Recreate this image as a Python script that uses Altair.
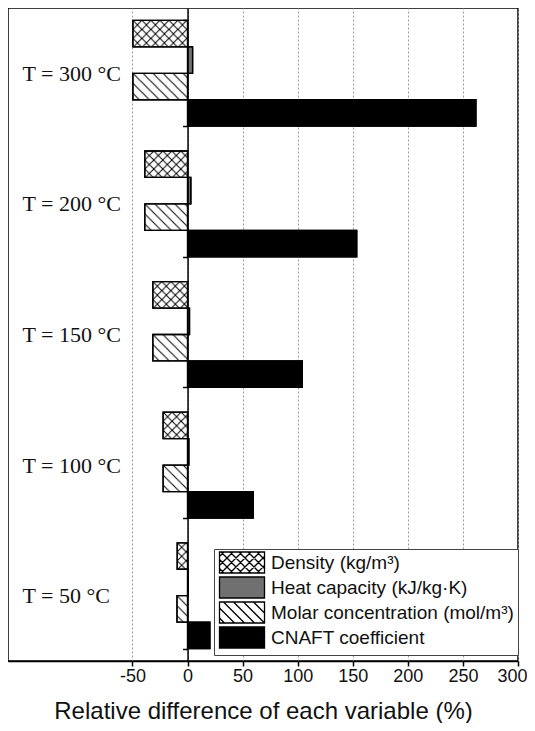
import altair as alt
import pandas as pd
from urllib.parse import quote

# ---------------- data ----------------
groups = ["T = 300 °C", "T = 200 °C", "T = 150 °C", "T = 100 °C", "T = 50 °C"]
variables = ["Density (kg/m³)", "Heat capacity (kJ/kg·K)",
             "Molar concentration (mol/m³)", "CNAFT coefficient"]
density = [-49.6, -38.8, -31.5, -22.2, -9.4]
heat_capacity = [4.6, 3.0, 1.8, 1.2, 0.5]
molar_conc = [-49.6, -38.8, -31.5, -22.2, -9.6]
cnaft = [261.8, 153.6, 104.2, 59.7, 20.3]
x_ticks = [-50, 0, 50, 100, 150, 200, 250, 300]
x_domain = [-163, 300]
x_title = "Relative difference of each variable (%)"

# ---------------- styles ----------------
W, H = 510, 653
fills = ["white", "#707070", "white", "black"]


def svg_uri(tile, d):
    svg = ("<svg xmlns='http://www.w3.org/2000/svg' width='100%' height='100%'><defs>"
           f"<pattern id='p' width='{tile}' height='{tile}' patternUnits='userSpaceOnUse'>"
           f"<path d='{d}' stroke='black' stroke-width='1' fill='none'/></pattern></defs>"
           "<rect width='100%' height='100%' fill='url(#p)'/></svg>")
    return "data:image/svg+xml," + quote(svg)


cross_uri = svg_uri(9, "M0,0L9,9M9,0L0,9")
back_uri = svg_uri(10, "M0,0L10,10M-1,9L1,11M9,-1L11,1")
hatch_map = {variables[0]: cross_uri, variables[2]: back_uri}


def rect_path(x0, x1, y0, y1):
    return f"M{x0:.3f},{y0:.3f}L{x1:.3f},{y0:.3f}L{x1:.3f},{y1:.3f}L{x0:.3f},{y1:.3f}Z"


def hatch_lines(x0, x1, y0, y1, p, direction):
    segs = []
    if direction == "back":  # y = x - c
        c = x0 - y1 + p / 2
        while c <= x1 - y0:
            xa, xb = max(x0, y0 + c), min(x1, y1 + c)
            if xb > xa:
                segs.append(f"M{xa:.3f},{xa - c:.3f}L{xb:.3f},{xb - c:.3f}")
            c += p
    else:  # y = c - x
        c = x0 + y0 + p / 2
        while c <= x1 + y1:
            xa, xb = max(x0, c - y1), min(x1, c - y0)
            if xb > xa:
                segs.append(f"M{xa:.3f},{c - xa:.3f}L{xb:.3f},{c - xb:.3f}")
            c += p
    return "".join(segs)


R = 8.0  # legend symbol unit in px
SW, SH = 45.0, 21.0  # legend symbol box in px
sx0, sx1, sy0, sy1 = -1.0, SW / R - 1.0, -SH / 2 / R, SH / 2 / R
base = rect_path(sx0, sx1, sy0, sy1)
shapes = [
    base + hatch_lines(sx0, sx1, sy0, sy1, 9 / R, "back") + hatch_lines(sx0, sx1, sy0, sy1, 9 / R, "fwd"),
    base,
    base + hatch_lines(sx0, sx1, sy0, sy1, 10 / R, "back"),
    base,
]

rows = []
for var, vals in zip(variables, [density, heat_capacity, molar_conc, cnaft]):
    for g, v in zip(groups, vals):
        rows.append({"group": g, "variable": var, "value": v, "hatch": hatch_map.get(var)})
df = pd.DataFrame(rows)

px_per_unit = W / (x_domain[1] - x_domain[0])
zero_offset = (0 - x_domain[0]) * px_per_unit

x_scale = alt.Scale(domain=x_domain, nice=False, zero=False)
y_scale = alt.Scale(domain=groups, paddingInner=0.19, paddingOuter=0.095)
yoff_scale = alt.Scale(domain=variables, paddingInner=0, paddingOuter=0)
fill_scale = alt.Scale(domain=variables, range=fills)
shape_scale = alt.Scale(domain=variables, range=shapes)
stroke_scale = alt.Scale(domain=variables, range=["black"] * len(variables))

legend = alt.Legend(title=None, orient="none", legendX=206, legendY=541,
                    symbolSize=(2 * R) ** 2, symbolOpacity=1,
                    symbolStrokeColor="black", symbolStrokeWidth=1.3,
                    labelFont="Liberation Sans", labelFontSize=19,
                    labelColor="#111", labelLimit=400,
                    labelOffset=SW + 5 - 2 * R,
                    rowPadding=-2, padding=4,
                    strokeColor="#444", fillColor="white")

x_enc = alt.X("value:Q", scale=x_scale,
              axis=alt.Axis(values=x_ticks, title=x_title, grid=True,
                            labelExpr="replace(datum.label, '\u2212', '-')",
                            labelFlush=True, labelFlushOffset=9,
                            gridDash=[2, 2], gridColor="#9a9a9a", gridWidth=1,
                            domainColor="black", domainWidth=1.5,
                            tickColor="black", tickWidth=1.5, tickSize=5,
                            labelFont="Liberation Sans", labelFontSize=18,
                            labelColor="#111", labelPadding=1,
                            titleFont="Liberation Sans", titleFontSize=24,
                            titleFontWeight="normal", titleColor="#111",
                            titlePadding=14))
y_enc = alt.Y("group:N", scale=y_scale, sort=groups,
              axis=alt.Axis(title=None, orient="left", offset=-zero_offset,
                            domainColor="black", domainWidth=1.5,
                            ticks=True, tickBand="extent", tickColor="black",
                            tickWidth=1.5, tickSize=5, labelAlign="left",
                            labelPadding=zero_offset - 14 - 5,
                            labelFont="Liberation Serif", labelFontSize=22,
                            labelColor="#111", zindex=1, grid=False))
yoff_enc = alt.YOffset("variable:N", scale=yoff_scale, sort=variables)

bars = alt.Chart(df).mark_bar(stroke="black", strokeWidth=1.3, cornerRadius=0).encode(
    x=x_enc, x2=alt.datum(0), y=y_enc, yOffset=yoff_enc,
    fill=alt.Fill("variable:N", scale=fill_scale, legend=legend),
)

hatch = alt.Chart(df).transform_filter("isValid(datum.hatch)").mark_image(aspect=False).encode(
    x="value:Q", x2=alt.datum(0), y="group:N", yOffset="variable:N", url="hatch:N",
)

outline = alt.Chart(df).mark_bar(fillOpacity=0, stroke="black", strokeWidth=1.3).encode(
    x="value:Q", x2=alt.datum(0), y="group:N", yOffset="variable:N",
)

legend_pts = alt.Chart(df).mark_point(filled=True, strokeWidth=1.3).encode(
    x="value:Q", y="group:N", yOffset="variable:N",
    opacity=alt.value(0),
    fill=alt.Fill("variable:N", scale=fill_scale, legend=legend),
    shape=alt.Shape("variable:N", scale=shape_scale, legend=legend),
    stroke=alt.Stroke("variable:N", scale=stroke_scale, legend=legend),
)

chart = alt.layer(bars, hatch, outline, legend_pts).properties(
    width=W, height=H, background="white",
    autosize=alt.AutoSizeParams(type="none"),
    padding={"left": 0, "top": 0, "right": 9, "bottom": 62},
).configure_view(stroke="black", strokeWidth=1.5)

chart.save("out.html", embed_options={"renderer": "svg", "actions": False})
